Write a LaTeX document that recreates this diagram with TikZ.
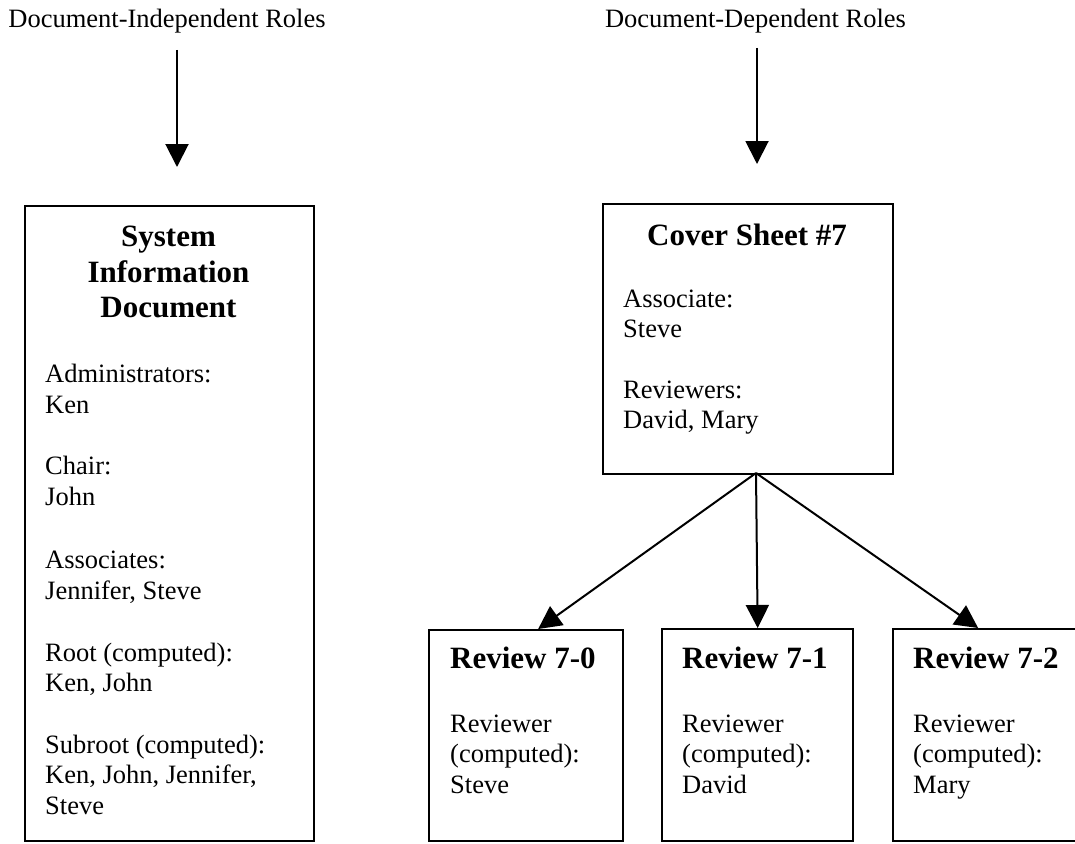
\documentclass[tikz,border=0pt]{standalone}
\usepackage{fontspec}
\setmainfont{Liberation Serif}
\usetikzlibrary{arrows.meta}
\tikzset{
  box/.style={draw, line width=2.3pt, rectangle, inner sep=0pt, anchor=north west},
  lbl/.style={font=\fontsize{26.5}{30.5}\selectfont, inner sep=0pt, anchor=base},
  ttl/.style={font=\bfseries\fontsize{31}{35.5}\selectfont, inner sep=0pt, anchor=base},
  ttlw/.style={ttl, anchor=base west},
  bdy/.style={font=\fontsize{26.5}{30.5}\selectfont, inner sep=0pt, anchor=base west},
  arr/.style={line width=2pt, -{Triangle[width=23pt,length=23pt]}},
}
\begin{document}
\begin{tikzpicture}[x=1pt,y=-1pt]
\useasboundingbox (0,0) rectangle (1075,843);
\clip (0,0) rectangle (1075,843);

% top labels
\node[lbl] (labI) at (167,28) {Document-Independent Roles};
\node[lbl] (labD) at (755.5,28) {Document-Dependent Roles};

% boxes
\node[box, minimum width=289pt, minimum height=635pt] (sid) at (24,205) {};
\node[box, minimum width=290pt, minimum height=270pt] (cs) at (602,203) {};
\node[box, minimum width=194pt, minimum height=211pt] (r0) at (428,629) {};
\node[box, minimum width=191pt, minimum height=212pt] (r1) at (661,628) {};
\node[box, minimum width=193pt, minimum height=212pt] (r2) at (892,628) {};

% top arrows
\coordinate (aIs) at (177,50);
\coordinate (aIe) at (177,167);
\coordinate (aDs) at (757,48);
\coordinate (aDe) at (757,164);
\draw[arr] (aIs) -- (aIe);
\draw[arr] (aDs) -- (aDe);

% system information document
\node[ttl] (sid1) at (168.5,246) {System};
\node[ttl] (sid2) at (168.5,282) {Information};
\node[ttl] (sid3) at (168.5,317) {Document};
\foreach \t/\y/\n in {Administrators:/382/s1, Ken/413/s2, Chair:/474/s3, John/505/s4,
  Associates:/568/s5, {Jennifer, Steve}/599/s6, Root (computed):/661/s7, {Ken, John}/691/s8,
  Subroot (computed):/753/s9, {Ken, John, Jennifer,}/783/s10, Steve/814/s11}
  \node[bdy] (\n) at (45,\y) {\t};

% cover sheet
\node[ttl] (cst) at (747,245) {Cover Sheet \#7};
\foreach \t/\y/\n in {Associate:/307/c1, Steve/337/c2, Reviewers:/398/c3, {David, Mary}/428/c4}
  \node[bdy] (\n) at (623,\y) {\t};

% reviews
\node[ttlw] (r0t) at (450,668) {Review 7-0};
\node[ttlw] (r1t) at (682,668) {Review 7-1};
\node[ttlw] (r2t) at (913,668) {Review 7-2};
\foreach \x/\k/\who in {450/a/Steve, 682/b/David, 913/c/Mary}{
  \node[bdy] (rv\k1) at (\x,732) {Reviewer};
  \node[bdy] (rv\k2) at (\x,762) {(computed):};
  \node[bdy] (rv\k3) at (\x,793) {\who};
}

% lower arrows
\coordinate (hub) at (756,473);
\draw[arr] (hub) -- ([xshift=12pt]r0.north);
\draw[arr] (hub) -- (r1.north);
\draw[arr] (hub) -- ([xshift=-11.5pt]r2.north);
\end{tikzpicture}
\end{document}
